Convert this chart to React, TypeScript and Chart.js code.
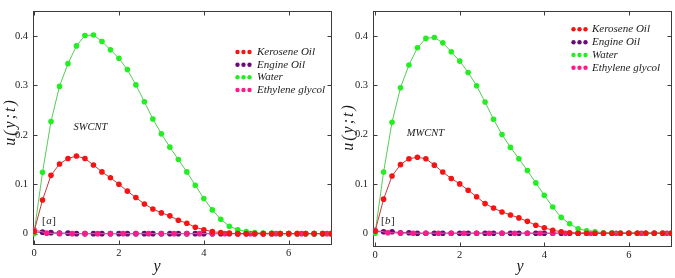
import React, { useEffect, useRef } from "react";
import { Chart, registerables } from "chart.js";

Chart.register(...registerables);

// y grid with step 0.2 (Kerosene, Engine Oil, Water)
const xFine = [0, 0.2, 0.4, 0.6, 0.8, 1, 1.2, 1.4, 1.6, 1.8, 2, 2.2, 2.4, 2.6, 2.8, 3, 3.2, 3.4, 3.6, 3.8, 4, 4.2, 4.4, 4.6, 4.8, 5, 5.2, 5.4, 5.6, 5.8, 6, 6.2, 6.4, 6.6, 6.8, 7];
// y grid with step 0.3 (Ethylene glycol)
const xCoarse = [0, 0.3, 0.6, 0.9, 1.2, 1.5, 1.8, 2.1, 2.4, 2.7, 3, 3.3, 3.6, 3.9, 4.2, 4.5, 4.8, 5.1, 5.4, 5.7, 6, 6.3, 6.6, 6.9];

const seriesNames = ["Kerosene Oil", "Engine Oil", "Water", "Ethylene glycol"];

// Panel [a] SWCNT
const keroseneA = [0.004, 0.068, 0.118, 0.141, 0.152, 0.157, 0.152, 0.139, 0.125, 0.113, 0.1, 0.086, 0.073, 0.06, 0.05, 0.042, 0.036, 0.027, 0.021, 0.013, 0.008, 0.004, 0.002, 0.001, 0, 0, 0, 0, 0, 0, 0, 0, 0, 0, 0, 0];
const engineA = [0.003, 0.003, 0.002, 0.001, 0.001, 0, 0, 0, 0, 0, 0, 0, 0, 0, 0, 0, 0, 0, 0, 0, 0, 0, 0, 0, 0, 0, 0, 0, 0, 0, 0, 0, 0, 0, 0, 0];
const waterA = [0, 0.124, 0.227, 0.298, 0.344, 0.38, 0.401, 0.402, 0.389, 0.372, 0.355, 0.332, 0.301, 0.267, 0.232, 0.202, 0.175, 0.15, 0.125, 0.098, 0.071, 0.048, 0.029, 0.015, 0.008, 0.004, 0.002, 0.001, 0.001, 0, 0, 0, 0, 0, 0, 0];
const ethyleneA = [0.008, 0.001, 0, 0, 0, 0, 0, 0, 0, 0, 0, 0, 0, 0, 0, 0, 0, 0, 0, 0, 0, 0, 0, 0];

// Panel [b] MWCNT
const keroseneB = [0.004, 0.069, 0.116, 0.139, 0.151, 0.154, 0.151, 0.138, 0.124, 0.111, 0.1, 0.087, 0.074, 0.06, 0.051, 0.043, 0.037, 0.031, 0.024, 0.016, 0.011, 0.006, 0.003, 0.001, 0, 0, 0, 0, 0, 0, 0, 0, 0, 0, 0, 0];
const engineB = [0.003, 0.003, 0.003, 0.001, 0.001, 0, 0, 0, 0, 0, 0, 0, 0, 0, 0, 0, 0, 0, 0, 0, 0, 0, 0, 0, 0, 0, 0, 0, 0, 0, 0, 0, 0, 0, 0, 0];
const waterB = [0, 0.124, 0.225, 0.295, 0.341, 0.376, 0.395, 0.397, 0.386, 0.368, 0.349, 0.326, 0.299, 0.266, 0.231, 0.2, 0.174, 0.151, 0.127, 0.102, 0.077, 0.053, 0.032, 0.019, 0.009, 0.005, 0.003, 0.001, 0.001, 0, 0, 0, 0, 0, 0, 0];
const ethyleneB = [0.006, 0.001, 0, 0, 0, 0, 0, 0, 0, 0, 0, 0, 0, 0, 0, 0, 0, 0, 0, 0, 0, 0, 0, 0];

const yTicks = [0, 0.1, 0.2, 0.3, 0.4];
const xTicks = [0, 2, 4, 6];

const markerColors = ["#f41414", "#6a0a78", "#22ee22", "#ff1a8c"];
const lineColors = ["#c43a3a", "#7a2a86", "#55cc55", "#ff4fa3"];

const SERIF = "'Liberation Serif', 'Times New Roman', serif";

type PanelCfg = {
  left: number;
  width: number;
  pad: { left: number; top: number; right: number; bottom: number };
  yWidth: number;
  xHeight: number;
  xMin: number;
  xMax: number;
  yMin: number;
  yMax: number;
  kerosene: number[];
  engine: number[];
  water: number[];
  ethylene: number[];
  nano: string;
  nanoPos: [number, number];
  tag: string;
  tagPos: [number, number];
  yTitlePos: [number, number];
  xTitlePos: [number, number];
  legendDotX: number;
  legendTextX: number;
  legendRows: number[];
};

const panels: PanelCfg[] = [
  {
    left: 0,
    width: 337,
    pad: { left: 0, top: 2, right: 5, bottom: 0 },
    yWidth: 33,
    xHeight: 33,
    xMin: -0.024,
    xMax: 7.02,
    yMin: -0.023,
    yMax: 0.45,
    kerosene: keroseneA,
    engine: engineA,
    water: waterA,
    ethylene: ethyleneA,
    nano: "SWCNT",
    nanoPos: [1.33, 0.216],
    tag: "a",
    tagPos: [0.35, 0.026],
    yTitlePos: [11, 122],
    xTitlePos: [157, 267],
    legendDotX: 237.5,
    legendTextX: 257,
    legendRows: [52, 64.7, 77.3, 90],
  },
  {
    left: 337,
    width: 338,
    pad: { left: 0, top: 4, right: 3, bottom: 0 },
    yWidth: 36,
    xHeight: 31,
    xMin: -0.05,
    xMax: 7.02,
    yMin: -0.028,
    yMax: 0.45,
    kerosene: keroseneB,
    engine: engineB,
    water: waterB,
    ethylene: ethyleneB,
    nano: "MWCNT",
    nanoPos: [1.19, 0.202],
    tag: "b",
    tagPos: [0.3, 0.025],
    yTitlePos: [12, 127],
    xTitlePos: [183, 267],
    legendDotX: 236.5,
    legendTextX: 255,
    legendRows: [29.3, 42.3, 55, 67.7],
  },
];

function makeDataset(i: number, xs: number[], ys: number[], order: number) {
  return {
    label: seriesNames[i],
    data: xs.map((x, k) => ({ x, y: ys[k] })),
    borderColor: lineColors[i],
    borderWidth: 1,
    backgroundColor: markerColors[i],
    pointBackgroundColor: markerColors[i],
    pointBorderWidth: 0,
    pointRadius: 2.8,
    pointHoverRadius: 2.8,
    tension: 0,
    fill: false,
    order,
  };
}

function decorPlugin(cfg: PanelCfg) {
  return {
    id: "decor",
    beforeDatasetsDraw(chart: any) {
      const { ctx, chartArea } = chart;
      const xs = chart.scales.x;
      const ys = chart.scales.y;
      const l = Math.round(chartArea.left) + 0.5;
      const r = Math.round(chartArea.right) - 0.5;
      const t = Math.round(chartArea.top) + 0.5;
      const b = Math.round(chartArea.bottom) - 0.5;
      ctx.save();
      ctx.strokeStyle = "#3c3c3c";
      ctx.lineWidth = 1;
      ctx.strokeRect(l, t, r - l, b - t);
      ctx.beginPath();
      const tl = 4;
      for (const v of xTicks) {
        const px = Math.round(xs.getPixelForValue(v)) + 0.5;
        ctx.moveTo(px, b);
        ctx.lineTo(px, b - tl);
        ctx.moveTo(px, t);
        ctx.lineTo(px, t + tl);
      }
      for (const v of yTicks) {
        const py = Math.round(ys.getPixelForValue(v)) + 0.5;
        ctx.moveTo(l, py);
        ctx.lineTo(l + tl, py);
        ctx.moveTo(r, py);
        ctx.lineTo(r - tl, py);
      }
      ctx.stroke();
      ctx.restore();
    },
    afterDraw(chart: any) {
      const { ctx } = chart;
      const xs = chart.scales.x;
      const ys = chart.scales.y;
      ctx.save();
      ctx.fillStyle = "#1a1a1a";
      ctx.textBaseline = "middle";

      // nanotube label
      ctx.font = `italic 10.5px ${SERIF}`;
      ctx.textAlign = "center";
      ctx.fillText(cfg.nano, xs.getPixelForValue(cfg.nanoPos[0]), ys.getPixelForValue(cfg.nanoPos[1]));

      // panel tag [a]/[b]
      const tx = xs.getPixelForValue(cfg.tagPos[0]);
      const ty = ys.getPixelForValue(cfg.tagPos[1]);
      ctx.font = `11px ${SERIF}`;
      const wOpen = ctx.measureText("[").width;
      const wClose = ctx.measureText("]").width;
      ctx.font = `italic 11px ${SERIF}`;
      const wMid = ctx.measureText(cfg.tag).width;
      const total = wOpen + wMid + wClose + 1;
      let cx = tx - total / 2;
      ctx.textAlign = "left";
      ctx.font = `11px ${SERIF}`;
      ctx.fillText("[", cx, ty);
      cx += wOpen + 0.5;
      ctx.font = `italic 11px ${SERIF}`;
      ctx.fillText(cfg.tag, cx, ty);
      cx += wMid + 0.5;
      ctx.font = `11px ${SERIF}`;
      ctx.fillText("]", cx, ty);

      // axis titles
      ctx.font = `italic 16px ${SERIF}`;
      ctx.textAlign = "center";
      ctx.fillText("y", cfg.xTitlePos[0], cfg.xTitlePos[1]);
      ctx.save();
      ctx.translate(cfg.yTitlePos[0], cfg.yTitlePos[1]);
      ctx.rotate(-Math.PI / 2);
      try {
        (ctx as any).letterSpacing = "2px";
      } catch (e) {}
      ctx.fillText("u(y;t)", 0, 0);
      ctx.restore();

      // legend
      ctx.font = `italic 11px ${SERIF}`;
      ctx.textAlign = "left";
      seriesNames.forEach((name, i) => {
        const y = cfg.legendRows[i];
        ctx.fillStyle = markerColors[i];
        for (let k = 0; k < 3; k++) {
          ctx.beginPath();
          ctx.arc(cfg.legendDotX + k * 6, y, 2.2, 0, Math.PI * 2);
          ctx.fill();
        }
        ctx.fillStyle = "#1a1a1a";
        ctx.fillText(name, cfg.legendTextX, y);
      });
      ctx.restore();
    },
  };
}

function Panel({ cfg }: { cfg: PanelCfg }) {
  const ref = useRef<HTMLCanvasElement>(null);
  useEffect(() => {
    const canvas = ref.current;
    if (!canvas) return;
    const tickFont = { family: SERIF, size: 10.5 };
    const chart = new Chart(canvas, {
      type: "line",
      data: {
        datasets: [
          makeDataset(0, xFine, cfg.kerosene, 1),
          makeDataset(1, xFine, cfg.engine, 3),
          makeDataset(2, xFine, cfg.water, 1),
          makeDataset(3, xCoarse, cfg.ethylene, 2),
        ] as any,
      },
      options: {
        animation: false,
        responsive: false,
        devicePixelRatio: 1,
        layout: { padding: cfg.pad },
        plugins: { legend: { display: false }, tooltip: { enabled: false } },
        events: [],
        scales: {
          x: {
            type: "linear",
            min: cfg.xMin,
            max: cfg.xMax,
            afterBuildTicks: (s: any) => {
              s.ticks = xTicks.map((v) => ({ value: v }));
            },
            afterFit: (s: any) => {
              s.height = cfg.xHeight;
            },
            grid: { display: false, drawTicks: false },
            border: { display: false },
            ticks: {
              font: tickFont,
              color: "#222",
              padding: 2,
              maxRotation: 0,
              autoSkip: false,
              callback: (v: any) => String(v),
            },
          },
          y: {
            type: "linear",
            min: cfg.yMin,
            max: cfg.yMax,
            afterBuildTicks: (s: any) => {
              s.ticks = yTicks.map((v) => ({ value: v }));
            },
            afterFit: (s: any) => {
              s.width = cfg.yWidth;
            },
            grid: { display: false, drawTicks: false },
            border: { display: false },
            ticks: {
              font: tickFont,
              color: "#222",
              padding: 5,
              autoSkip: false,
              callback: (v: any) => (v === 0 ? "0" : Number(v).toFixed(1)),
            },
          },
        },
      } as any,
      plugins: [decorPlugin(cfg)],
    });
    return () => chart.destroy();
  }, [cfg]);
  return (
    <canvas
      ref={ref}
      width={cfg.width}
      height={278}
      style={{ position: "absolute", left: cfg.left, top: 0, width: cfg.width, height: 278 }}
    />
  );
}

export default function App() {
  return (
    <div
      style={{
        position: "fixed",
        left: 0,
        top: 0,
        width: 675,
        height: 278,
        background: "#fff",
        overflow: "hidden",
      }}
    >
      {panels.map((p, i) => (
        <Panel key={i} cfg={p} />
      ))}
    </div>
  );
}
